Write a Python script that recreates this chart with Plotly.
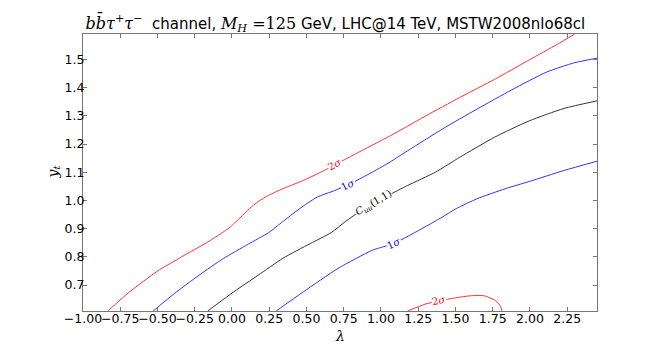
import plotly.graph_objects as go

# ---- data (lambda, y_t) ----
red_up_x = [-0.834, -0.687, -0.501, -0.338, -0.174, -0.081, -0.011, 0.059, 0.117, 0.176, 0.246, 0.339, 0.479, 0.619, 0.689, 0.829, 1.062, 1.295, 1.529, 1.762, 1.995, 2.182, 2.298]
red_up_y = [0.608, 0.676, 0.749, 0.800, 0.849, 0.880, 0.906, 0.941, 0.971, 0.996, 1.018, 1.041, 1.071, 1.106, 1.126, 1.165, 1.229, 1.298, 1.365, 1.429, 1.498, 1.553, 1.589]

blue_up_x = [-0.529, -0.384, -0.221, -0.058, 0.106, 0.246, 0.339, 0.409, 0.479, 0.572, 0.689, 0.782, 0.899, 1.039, 1.179, 1.412, 1.645, 1.878, 2.112, 2.298, 2.45]
blue_up_y = [0.608, 0.671, 0.735, 0.794, 0.844, 0.886, 0.924, 0.953, 0.980, 1.012, 1.035, 1.056, 1.088, 1.129, 1.176, 1.253, 1.324, 1.392, 1.455, 1.488, 1.504]

black_x = [-0.163, 0.012, 0.176, 0.339, 0.525, 0.666, 0.759, 0.852, 0.95, 1.050, 1.179, 1.365, 1.529, 1.762, 1.995, 2.228, 2.45]
black_y = [0.608, 0.676, 0.735, 0.794, 0.847, 0.886, 0.924, 0.959, 0.988, 1.018, 1.053, 1.100, 1.153, 1.224, 1.282, 1.326, 1.353]

blue_lo_x = [0.297, 0.479, 0.712, 0.945, 1.085, 1.295, 1.412, 1.505, 1.645, 1.832, 1.995, 2.228, 2.45]
blue_lo_y = [0.608, 0.676, 0.759, 0.824, 0.847, 0.906, 0.941, 0.971, 1.006, 1.041, 1.067, 1.106, 1.139]

red_lo_x = [1.179, 1.295, 1.389, 1.505, 1.599, 1.692, 1.762, 1.797, 1.813]
red_lo_y = [0.608, 0.632, 0.644, 0.655, 0.662, 0.662, 0.647, 0.629, 0.608]

# contour labels: text, lambda, y_t, angle
label_text = ["2<i>σ</i>", "1<i>σ</i>", "<i>C<sub>uu</sub></i>(1,1)", "1<i>σ</i>", "2<i>σ</i>"]
label_x = [0.689, 0.782, 0.95, 1.085, 1.389]
label_y = [1.126, 1.056, 0.988, 0.847, 0.644]
label_angle = [-29, -27, -30, -25, -12]
label_color = ["#ff0000", "#0000ff", "#000000", "#0000ff", "#ff0000"]

x_ticks = [-1.0, -0.75, -0.5, -0.25, 0.0, 0.25, 0.5, 0.75, 1.0, 1.25, 1.5, 1.75, 2.0, 2.25]
x_tick_text = ["−1.00", "−0.75", "−0.50", "−0.25", "0.00", "0.25", "0.50", "0.75", "1.00", "1.25", "1.50", "1.75", "2.00", "2.25"]
y_ticks = [0.7, 0.8, 0.9, 1.0, 1.1, 1.2, 1.3, 1.4, 1.5]
y_tick_text = ["0.7", "0.8", "0.9", "1.0", "1.1", "1.2", "1.3", "1.4", "1.5"]

fig = go.Figure()
series = [
    (red_up_x, red_up_y, "#ff0000"),
    (blue_up_x, blue_up_y, "#0000ff"),
    (black_x, black_y, "#000000"),
    (blue_lo_x, blue_lo_y, "#0000ff"),
    (red_lo_x, red_lo_y, "#ff0000"),
]
for xs, ys, c in series:
    fig.add_trace(go.Scatter(x=xs, y=ys, mode="lines", line=dict(color=c, width=1, shape="spline", smoothing=0.6),
                             opacity=0.8, showlegend=False, hoverinfo="skip"))

for t, lx, ly, a, c in zip(label_text, label_x, label_y, label_angle, label_color):
    fig.add_annotation(x=lx, y=ly, text=t, showarrow=False, textangle=a,
                       font=dict(family="DejaVu Serif", size=10, color=c),
                       bgcolor="white", borderpad=0)

# axis titles as annotations, placed as in the reference
fig.add_annotation(x=0.5, y=0, xref="paper", yref="paper", yanchor="top", yshift=-15,
                   text="<i>λ</i>", showarrow=False,
                   font=dict(family="DejaVu Serif", size=14, color="black"))
fig.add_annotation(x=0, y=0.5, xref="paper", yref="paper", xanchor="center", xshift=-30,
                   text="<i>y<sub>t</sub></i>", showarrow=False, textangle=-90,
                   font=dict(family="DejaVu Serif", size=14, color="black"))

serif = "font-family:DejaVu Serif;font-size:16px"
title = (f'<span style="{serif}"><i>bb̄τ</i><sup>+</sup><i>τ</i><sup>−</sup></span>&nbsp;&nbsp;channel, '
         f'<span style="{serif}"><i>M<sub>H</sub></i> =125</span> GeV, LHC@14 TeV, MSTW2008nlo68cl')

axis_common = dict(showgrid=False, zeroline=False, showline=True, linecolor="#777777", linewidth=1,
                   mirror="ticks", ticks="inside", ticklen=4, tickcolor="#777777", tickangle=0,
                   tickfont=dict(family="DejaVu Sans", size=12.5, color="black"), automargin=False)

fig.update_layout(
    width=664, height=347,
    margin=dict(l=75, r=75, t=26, b=44),
    paper_bgcolor="white", plot_bgcolor="white",
    title=dict(text=title, x=0.493, xanchor="center", y=0.94, yanchor="bottom",
               font=dict(family="DejaVu Sans", size=15, color="black")),
    xaxis=dict(range=[-1.0, 2.45], tickvals=x_ticks, ticktext=x_tick_text, ticklabelstandoff=-4,
               **axis_common),
    yaxis=dict(range=[0.608, 1.59], tickvals=y_ticks, ticktext=y_tick_text, ticklabelstandoff=-5,
               **axis_common),
)

fig.write_html("out.html")
